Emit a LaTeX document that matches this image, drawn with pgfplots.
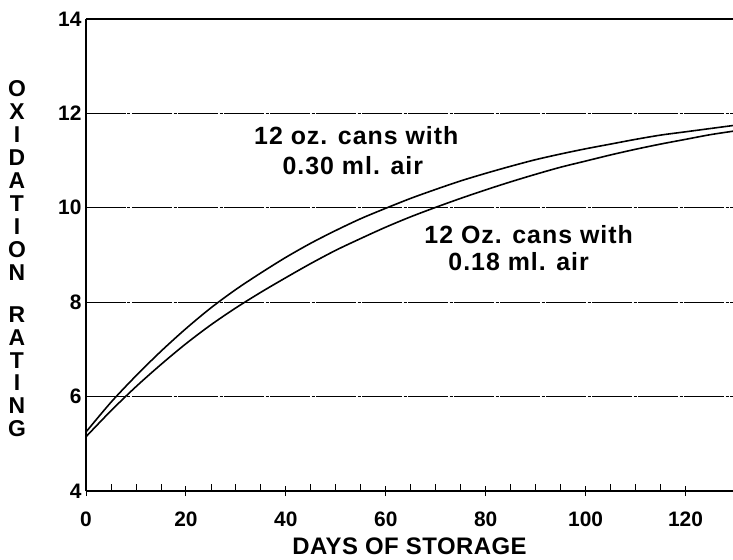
\documentclass[border=0pt]{standalone}
\usepackage{fontspec}
\setmainfont{Liberation Sans}
\usepackage{pgfplots}
\usepackage{pgfplotstable}
\pgfplotsset{compat=1.18}
\usetikzlibrary{calc}
\pgfplotstableread{
x y
0 5.25
5 5.88
10 6.44
15 6.96
20 7.44
25 7.88
30 8.27
35 8.62
40 8.95
45 9.25
50 9.52
55 9.77
60 9.99
65 10.20
70 10.39
75 10.57
80 10.73
85 10.88
90 11.02
95 11.14
100 11.25
105 11.35
110 11.45
115 11.54
120 11.61
125 11.68
130 11.75
}\airhigh
\pgfplotstableread{
x y
0 5.15
5 5.70
10 6.21
15 6.68
20 7.12
25 7.52
30 7.88
35 8.21
40 8.52
45 8.82
50 9.10
55 9.35
60 9.59
65 9.81
70 10.01
75 10.20
80 10.38
85 10.55
90 10.71
95 10.86
100 10.99
105 11.12
110 11.24
115 11.35
120 11.45
125 11.55
130 11.63
}\airlow
\begin{document}
\begin{tikzpicture}
\begin{axis}[
  scale only axis,
  width=647bp, height=472bp,
  xmin=0, xmax=129.5,
  ymin=4, ymax=14,
  clip=false,
  axis x line*=bottom,
  axis y line*=left,
  axis line style={black, line width=1.1pt, -},
  xtick={0,20,...,120},
  minor x tick num=3,
  ytick={4,6,...,14},
  tick align=inside,
  major tick length=10bp,
  minor tick length=7bp,
  major x tick style={black, line width=1pt, yshift=-5bp},
  minor x tick style={black, line width=0.8pt},
  ytick style={draw=none},
  ymajorgrids,
  major grid style={black, line width=0.6pt, dash pattern=on 40bp off 1.5bp on 3bp off 1.5bp},
  /pgf/number format/assume math mode=true,
  xticklabel={\pgfmathprintnumber{\tick}},
  yticklabel={\pgfmathprintnumber{\tick}},
  tick label style={font=\fontsize{21}{21}\selectfont\bfseries},
  xticklabel style={anchor=north, yshift=-17bp},
  yticklabel style={anchor=east, xshift=-1bp},
]
\addplot[black, line width=1.6pt, smooth] table[x=x,y=y] {\airhigh};
\addplot[black, line width=1.6pt, smooth] table[x=x,y=y] {\airlow};
\draw[black, line width=1.1pt] (rel axis cs:0,1) -- (rel axis cs:1,1);
\begin{scope}[every node/.style={font=\fontsize{25}{25}\selectfont\bfseries\addfontfeatures{LetterSpace=4}, inner sep=0pt}]
\node at (axis cs:54.1,11.52) {12 oz. cans with};
\node at (axis cs:53.4,10.89) {0.30 ml. air};
\node at (axis cs:88.6,9.44) {12 Oz. cans with};
\node at (axis cs:86.6,8.86) {0.18 ml. air};
\end{scope}
\node[font=\fontsize{24}{24}\selectfont\bfseries\addfontfeatures{LetterSpace=2}, inner sep=0pt] at ([yshift=-55bp]rel axis cs:0.5,0) {DAYS OF STORAGE};
\node[font=\fontsize{23}{23}\selectfont\bfseries, align=center, inner sep=0pt] at ([xshift=-69bp, yshift=-4bp]rel axis cs:0,0.5) {O\\X\\I\\D\\A\\T\\I\\O\\N\\[19bp]R\\A\\T\\I\\N\\G};
\coordinate (ll) at (rel axis cs:0,0);
\coordinate (ur) at (rel axis cs:1,1);
\end{axis}
\pgfresetboundingbox
\path[use as bounding box] ($(ll)+(-86bp,-69bp)$) rectangle ($(ur)+(0,19bp)$);
\end{tikzpicture}
\end{document}
